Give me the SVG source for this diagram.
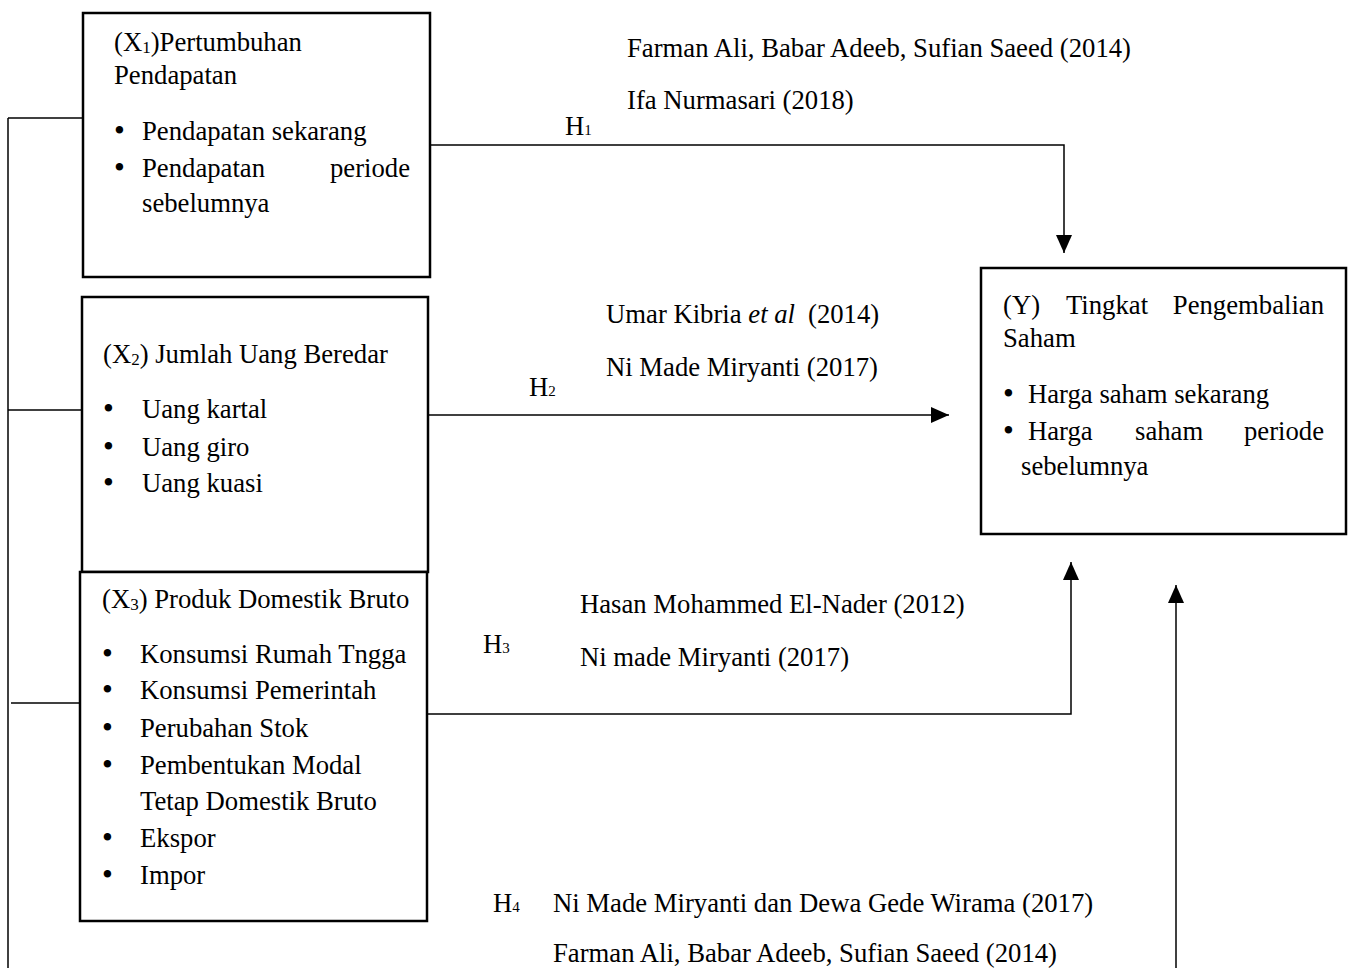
<svg xmlns="http://www.w3.org/2000/svg" width="1352" height="968" viewBox="0 0 1352 968">
<style>
text{font-family:"Liberation Serif","Times New Roman",serif;font-size:26.7px;fill:#000}
.box{fill:#fff;stroke:#000;stroke-width:2.5}
.ln{fill:none;stroke:#000;stroke-width:1.5}
.sub{font-size:17px}
.hs{font-size:15px}
.b{font-size:31px}
</style>
<defs>
<marker id="ah" markerUnits="userSpaceOnUse" markerWidth="20" markerHeight="16" refX="18" refY="8" orient="auto">
<path d="M0,0 L18,8 L0,16 Z" fill="#000"/>
</marker>
</defs>
<rect width="1352" height="968" fill="#fff"/>
<g id="connectors">
<path class="ln" d="M8,118 V968"/>
<path class="ln" d="M8,118 H83"/>
<path class="ln" d="M8,410 H82"/>
<path class="ln" d="M11,703 H80"/>
<path class="ln" d="M430,145 H1064 V253" marker-end="url(#ah)"/>
<path class="ln" d="M428,415 H949" marker-end="url(#ah)"/>
<path class="ln" d="M427,714 H1071 V562" marker-end="url(#ah)"/>
<path class="ln" d="M1176,968 V585" marker-end="url(#ah)"/>
</g>
<g id="x1">
<rect class="box" x="83" y="13" width="347" height="264"/>
<text x="114" y="51">(X<tspan class="sub" dy="2">1</tspan><tspan dy="-2">)Pertumbuhan</tspan></text>
<text x="114" y="84">Pendapatan</text>
<text class="b" x="114" y="141">•</text>
<text x="142" y="140">Pendapatan sekarang</text>
<text class="b" x="114" y="178">•</text>
<text x="142" y="177">Pendapatan</text>
<text x="410" y="177" text-anchor="end">periode</text>
<text x="142" y="212">sebelumnya</text>
</g>
<g id="x2">
<rect class="box" x="82" y="297" width="346" height="275"/>
<text x="103" y="363">(X<tspan class="sub" dy="2">2</tspan><tspan dy="-2">) Jumlah Uang Beredar</tspan></text>
<text class="b" x="103" y="419">•</text>
<text x="142" y="418">Uang kartal</text>
<text class="b" x="103" y="457">•</text>
<text x="142" y="456">Uang giro</text>
<text class="b" x="103" y="493">•</text>
<text x="142" y="492">Uang kuasi</text>
</g>
<g id="x3">
<rect class="box" x="80" y="572" width="347" height="349"/>
<text x="102" y="608">(X<tspan class="sub" dy="2">3</tspan><tspan dy="-2">) Produk Domestik Bruto</tspan></text>
<text class="b" x="102" y="664">•</text>
<text x="140" y="663">Konsumsi Rumah Tngga</text>
<text class="b" x="102" y="700">•</text>
<text x="140" y="699">Konsumsi Pemerintah</text>
<text class="b" x="102" y="738">•</text>
<text x="140" y="737">Perubahan Stok</text>
<text class="b" x="102" y="775">•</text>
<text x="140" y="774">Pembentukan Modal</text>
<text x="140" y="810">Tetap Domestik Bruto</text>
<text class="b" x="102" y="848">•</text>
<text x="140" y="847">Ekspor</text>
<text class="b" x="102" y="885">•</text>
<text x="140" y="884">Impor</text>
</g>
<g id="y">
<rect class="box" x="981" y="268" width="365" height="266"/>
<text x="1003" y="314">(Y)</text>
<text x="1066" y="314">Tingkat</text>
<text x="1324" y="314" text-anchor="end">Pengembalian</text>
<text x="1003" y="347">Saham</text>
<text class="b" x="1003" y="404">•</text>
<text x="1028" y="403">Harga saham sekarang</text>
<text class="b" x="1003" y="441">•</text>
<text x="1028" y="440">Harga</text>
<text x="1135" y="440">saham</text>
<text x="1324" y="440" text-anchor="end">periode</text>
<text x="1021" y="475">sebelumnya</text>
</g>
<g id="labels">
<text x="627" y="57">Farman Ali, Babar Adeeb, Sufian Saeed (2014)</text>
<text x="627" y="109">Ifa Nurmasari (2018)</text>
<text x="565" y="135">H<tspan class="hs">1</tspan></text>
<text x="606" y="323">Umar Kibria <tspan font-style="italic">et al</tspan><tspan dx="13">(2014)</tspan></text>
<text x="606" y="376">Ni Made Miryanti (2017)</text>
<text x="529" y="396">H<tspan class="hs">2</tspan></text>
<text x="580" y="613">Hasan Mohammed El-Nader (2012)</text>
<text x="483" y="653">H<tspan class="hs">3</tspan></text>
<text x="580" y="666">Ni made Miryanti (2017)</text>
<text x="493" y="912">H<tspan class="hs">4</tspan></text>
<text x="553" y="912">Ni Made Miryanti dan Dewa Gede Wirama (2017)</text>
<text x="553" y="962">Farman Ali, Babar Adeeb, Sufian Saeed (2014)</text>
</g>
</svg>
